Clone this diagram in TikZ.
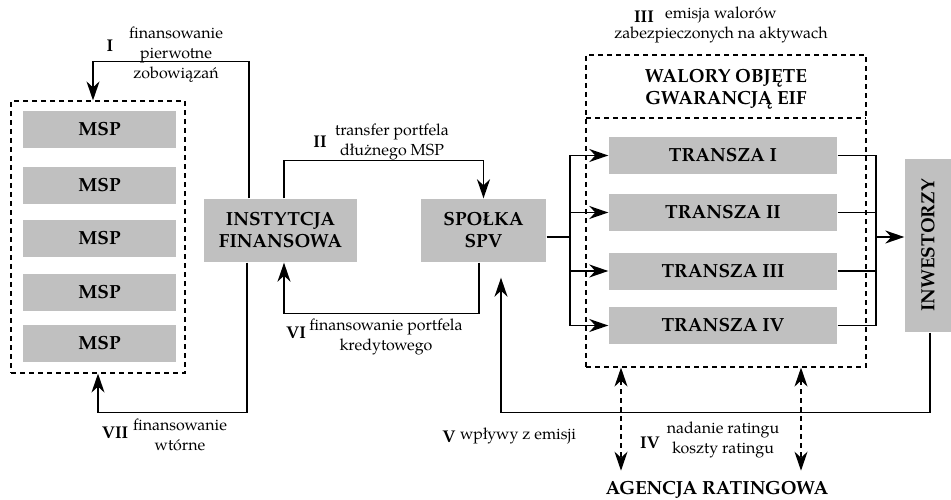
\documentclass[tikz,border=0pt]{standalone}
\usepackage{fontspec}
\setmainfont{texgyrepagella}[Extension=.otf,UprightFont=*-regular,BoldFont=*-bold,ItalicFont=*-italic,BoldItalicFont=*-bolditalic]
\usetikzlibrary{arrows.meta}
\definecolor{boxgray}{RGB}{192,192,192}
\newcommand\bigbf{\fontsize{19}{22}\selectfont\bfseries}
\newcommand\smalltxt{\fontsize{16}{20}\selectfont}
\newcommand\lblnum{\fontsize{17}{20}\selectfont\bfseries}
\tikzset{
  box/.style={fill=boxgray, draw=none, inner sep=0pt, align=center, font=\bigbf},
  msp/.style={box, minimum width=153pt, minimum height=37pt},
  tr/.style={box, minimum width=228pt, minimum height=37pt},
  dbox/.style={draw, line width=1.2pt, dash pattern=on 5pt off 4pt, inner sep=0pt},
  small/.style={font=\smalltxt, align=center, inner sep=0pt},
  num/.style={font=\lblnum, inner sep=0pt},
  head/.style={font=\bigbf, align=center, inner sep=0pt},
  ddash/.style={line width=1.2pt, dash pattern=on 5pt off 4pt}
}
\begin{document}
\begin{tikzpicture}[x=1pt,y=-1pt, line width=1.4pt,
  >={Stealth[length=19pt,width=13pt,inset=6pt]}]
\useasboundingbox (0,0) rectangle (951,500);

% left group
\node[dbox, minimum width=174pt, minimum height=272pt] (msps) at (98,237) {};
\node[msp] (m1) at (99.5,129.5) {MSP};
\node[msp] (m2) at (99.5,185.5) {MSP};
\node[msp] (m3) at (99.5,238.5) {MSP};
\node[msp] (m4) at (99.5,292.5) {MSP};
\node[msp] (m5) at (99.5,343.5) {MSP};

\node[box, minimum width=153pt, minimum height=63pt] (inst) at (280.5,230.5) {INSTYTCJA\\FINANSOWA};
\node[box, minimum width=125pt, minimum height=63pt] (spv) at (483.5,230.5) {SPOŁKA\\SPV};

% walory group
\node[dbox, minimum width=280pt, minimum height=312pt] (walory) at (726,211) {};
\coordinate (dl) at (586,118);
\coordinate (dr) at (866,118);
\draw[ddash] (dl) -- (dr);
\node[head] (wal) at (726,89) {WALORY OBJĘTE\\GWARANCJĄ EIF};
\node[tr] (t1) at (723,155.5) {TRANSZA I};
\node[tr] (t2) at (723,212.5) {TRANSZA II};
\node[tr] (t3) at (723,271) {TRANSZA III};
\node[tr] (t4) at (723,325.5) {TRANSZA IV};

\node[box, minimum width=46pt, minimum height=173pt] (inw) at (928,245.5) {};
\node[rotate=90, font=\bigbf, inner sep=0pt] (inwt) at (inw) {INWESTORZY};

\node[head] (agencja) at (717,490) {AGENCJA RATINGOWA};

% connectors
\draw[->] ([xshift=-31.5pt]inst.north) -- ++(0,-137) -| ([xshift=-5pt]msps.north);
\draw[->] ([xshift=-33.5pt]inst.south) -- ++(0,150) -| (msps.south);
\draw[->] ([xshift=3.5pt]inst.north) -- ++(0,-38) -| (spv.north);
\draw[->] ([xshift=-4.5pt]spv.south) -- ++(0,51) -| ([xshift=3.5pt]inst.south);
\draw[->] ([xshift=2pt]inw.south) -- ++(0,80) -| ([xshift=17.5pt,yshift=-15pt]spv.south);

\coordinate (split) at (570,237);
\draw ([yshift=-6.5pt]spv.east) -- (split);
\draw (t1.west -| split) -- (t4.west -| split);
\foreach \t in {t1,t2,t3,t4} \draw[->] (\t.west -| split) -- (\t.west);

\coordinate (merge) at (876,237);
\draw (t1.east -| merge) -- (t4.east -| merge);
\foreach \t in {t1,t2,t3,t4} \draw (\t.east) -- (\t.east -| merge);
\draw[->] (merge) -- (inw.west |- merge);

\draw[ddash, <->] ([xshift=-105pt]walory.south) -- ([xshift=-96pt,yshift=10pt]agencja.north);
\draw[ddash, <->] ([xshift=75pt]walory.south) -- ([xshift=84pt,yshift=10pt]agencja.north);

% labels
\node[num] (lI) at (110,46) {I};
\node[small] (sI) at (176,55) {finansowanie\\pierwotne\\zobowiązań};
\node[num] (lII) at (320,142) {II};
\node[small] (sII) at (392,142) {transfer portfela\\dłużnego MSP};
\node[num] (lIII) at (644,17) {III};
\node[small] (sIII) at (721,25) {emisja walorów\\zabezpieczonych na aktywach};
\node[num] (lVI) at (296,333) {VI};
\node[small] (sVI) at (386,337) {finansowanie portfela\\kredytowego};
\node[num] (lVII) at (115,433) {VII};
\node[small] (sVII) at (180,435) {finansowanie\\wtórne};
\node[num] (lV) at (449,437) {V};
\node[small] (sV) at (518,436) {wpływy z emisji};
\node[num] (lIV) at (650,443) {IV};
\node[small] (sIV) at (723,440) {nadanie ratingu\\koszty ratingu};
\end{tikzpicture}
\end{document}
